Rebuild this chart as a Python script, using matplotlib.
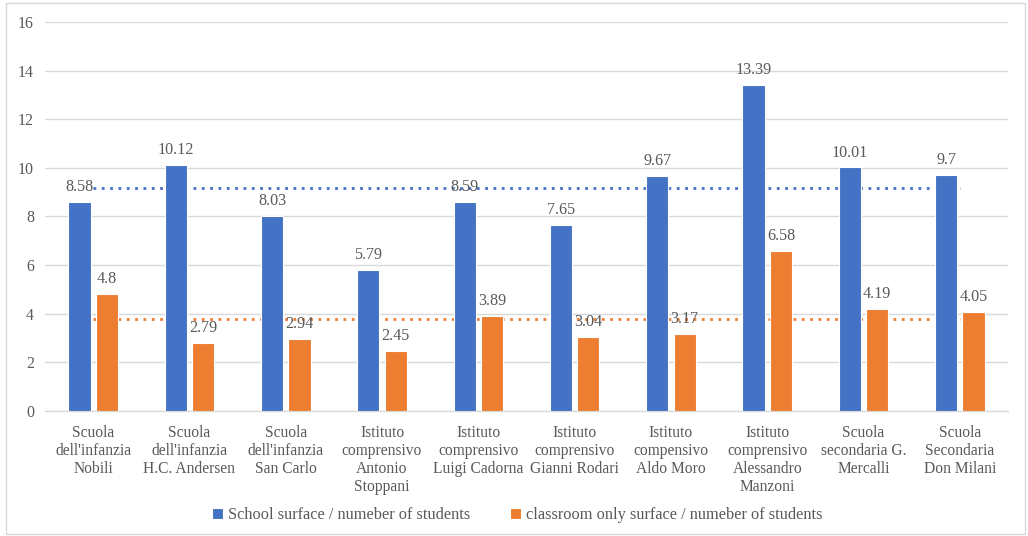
import matplotlib
matplotlib.use("Agg")
import matplotlib.pyplot as plt
import numpy as np
from matplotlib.patches import Rectangle

# dati
categorie = [
    "Scuola\ndell'infanzia\nNobili",
    "Scuola\ndell'infanzia\nH.C. Andersen",
    "Scuola\ndell'infanzia\nSan Carlo",
    "Istituto\ncomprensivo\nAntonio\nStoppani",
    "Istituto\ncomprensivo\nLuigi Cadorna",
    "Istituto\ncomprensivo\nGianni Rodari",
    "Istituto\ncompensivo\nAldo Moro",
    "Istituto\ncomprensivo\nAlessandro\nManzoni",
    "Scuola\nsecondaria G.\nMercalli",
    "Scuola\nSecondaria\nDon Milani",
]
superficie_scuola = [8.58, 10.12, 8.03, 5.79, 8.59, 7.65, 9.67, 13.39, 10.01, 9.7]
superficie_aule = [4.8, 2.79, 2.94, 2.45, 3.89, 3.04, 3.17, 6.58, 4.19, 4.05]
nomi_serie = ["School surface / numeber of students",
              "classroom only surface / numeber of students"]

BLU = "#4472C4"
ARANCIO = "#ED7D31"
GRIGIO = "#595959"

plt.rcParams['font.family'] = ['Liberation Serif', 'DejaVu Serif']

fig = plt.figure(figsize=(10.28, 5.36), dpi=100)
ax = fig.add_axes([0.0438, 0.2338, 0.9367, 0.7252])

x = np.arange(len(categorie))
w = 0.23
off = 0.142

b1 = ax.bar(x - off, superficie_scuola, w, color=BLU, edgecolor="white", linewidth=0.8,
            zorder=3, label=nomi_serie[0])
b2 = ax.bar(x + off, superficie_aule, w, color=ARANCIO, edgecolor="white", linewidth=0.8,
            zorder=3, label=nomi_serie[1])

# medie tratteggiate
media1 = np.mean(superficie_scuola)
media2 = np.mean(superficie_aule)
ax.plot(x, [media1] * len(x), color=BLU, linestyle=(0, (1, 2)), linewidth=2, zorder=2)
ax.plot(x, [media2] * len(x), color=ARANCIO, linestyle=(0, (1, 2)), linewidth=2, zorder=2)

for barre, valori in [(b1, superficie_scuola), (b2, superficie_aule)]:
    for r, v in zip(barre, valori):
        ax.annotate(f"{v:g}", (r.get_x() + r.get_width() / 2, v), xytext=(0, 5),
                    textcoords="offset points", ha="center", va="bottom",
                    fontsize=11.6, color=GRIGIO, zorder=5)

ax.set_xlim(-0.5, len(categorie) - 0.5)
ax.set_ylim(0, 16)
ax.set_yticks(range(0, 17, 2))
ax.set_xticks(x)
ax.set_xticklabels(categorie, fontsize=11.2, color=GRIGIO, linespacing=1.17)
ax.tick_params(axis="y", labelsize=11.5, labelcolor=GRIGIO, length=0, pad=8)
ax.tick_params(axis="x", length=0, pad=10)
ax.grid(axis="y", color="#D9D9D9", linewidth=1, zorder=0)
for s in ["top", "right", "left"]:
    ax.spines[s].set_visible(False)
ax.spines["bottom"].set_color("#D9D9D9")
ax.spines["bottom"].set_linewidth(1)

fig.legend(handles=[b1, b2], labels=nomi_serie, loc="center", bbox_to_anchor=(0.503, 0.039),
           ncol=2, frameon=False, fontsize=11.8, handlelength=0.7, handleheight=0.7,
           handletextpad=0.3, columnspacing=2.4, labelcolor=GRIGIO)

# cornice esterna
fig.patches.append(Rectangle((0.006, 0.004), 0.991, 0.99, transform=fig.transFigure,
                             fill=False, edgecolor="#D9D9D9", linewidth=1))

fig.savefig("out.png", dpi=100)
